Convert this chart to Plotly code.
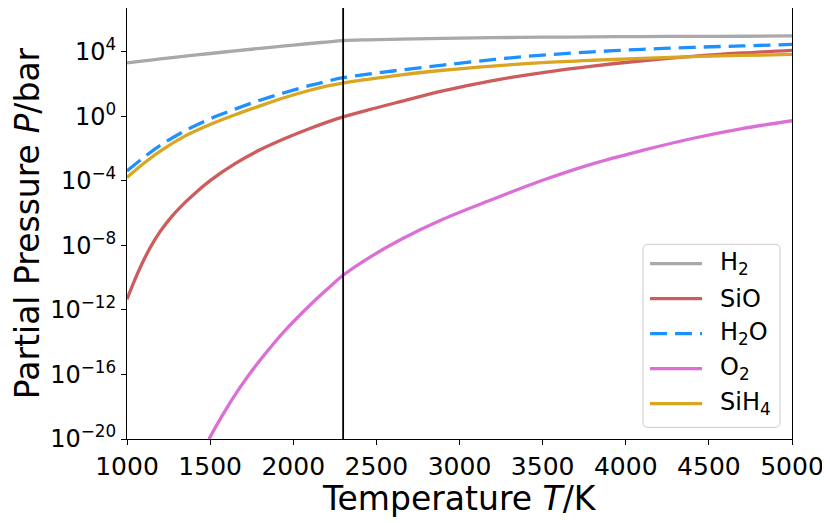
import plotly.graph_objects as go

# temperature grid (K) used for read-off values
temps = [1000, 1100, 1200, 1350, 1500, 1650, 1800, 1950, 2100, 2200, 2300,
         2450, 2650, 2900, 3200, 3500, 3800, 4100, 4400, 4700, 5000]

# log10 of partial pressure (bar)
log_h2 = [3.32, 3.44, 3.56, 3.73, 3.90, 4.06, 4.22, 4.37, 4.52, 4.61, 4.70,
          4.75, 4.79, 4.84, 4.88, 4.91, 4.93, 4.95, 4.96, 4.97, 4.99]
log_h2o = [-3.38, -2.55, -1.80, -0.88, -0.15, 0.45, 1.00, 1.48, 1.92, 2.17, 2.40,
           2.62, 2.88, 3.18, 3.52, 3.80, 4.00, 4.16, 4.28, 4.37, 4.46]
log_sih4 = [-3.79, -2.92, -2.15, -1.21, -0.50, 0.10, 0.65, 1.17, 1.62, 1.87, 2.07,
            2.30, 2.58, 2.86, 3.12, 3.33, 3.48, 3.60, 3.70, 3.78, 3.84]

# SiO is steep at low T, so it was read at more points there
temps_sio = [1000, 1050, 1100, 1150, 1200, 1275, 1350, 1425, 1500, 1650, 1800, 1950,
             2100, 2200, 2300, 2450, 2650, 2900, 3200, 3500, 3800, 4100, 4400, 4700, 5000]
log_sio = [-11.33, -10.06, -8.92, -7.95, -7.13, -6.14, -5.33, -4.62, -3.98, -2.93, -2.07, -1.37,
           -0.75, -0.37, -0.03, 0.40, 0.93, 1.58, 2.22, 2.72, 3.12, 3.45, 3.72, 3.93, 4.09]

# O2 only enters the plotted range above ~1500 K
temps_o2 = [1493, 1550, 1600, 1650, 1725, 1800, 1875, 1950, 2100, 2200, 2300, 2450, 2650, 2900,
            3200, 3500, 3800, 4100, 4400, 4700, 5000]
log_o2 = [-20.0, -18.95, -18.08, -17.26, -16.14, -15.12, -14.17, -13.28, -11.71, -10.75, -9.85,
          -8.80, -7.62, -6.38, -5.14, -3.96, -2.94, -2.11, -1.37, -0.76, -0.27]

t_marker = 2300

ytick_exp = [4, 0, -4, -8, -12, -16, -20]
xtick_vals = [1000, 1500, 2000, 2500, 3000, 3500, 4000, 4500, 5000]

FONT = "DejaVu Sans"
LW = 3.3

series = [
    ("H<sub>2</sub>", temps, log_h2, "darkgray", "solid"),
    ("SiO", temps_sio, log_sio, "indianred", "solid"),
    ("H<sub>2</sub>O", temps, log_h2o, "dodgerblue", "17px,8px"),
    ("O<sub>2</sub>", temps_o2, log_o2, "orchid", "solid"),
    ("SiH<sub>4</sub>", temps, log_sih4, "goldenrod", "solid"),
]

fig = go.Figure()

for name, t, logp, color, dash in series:
    fig.add_trace(go.Scatter(
        x=t,
        y=[10 ** v for v in logp],
        mode="lines",
        name=name,
        showlegend=False,
        line=dict(color=color, width=LW, dash=dash, shape="spline", smoothing=1.0),
    ))

fig.add_vline(x=t_marker, line=dict(color="black", width=1.8))

# hand-made legend (matplotlib style: rounded box, long line samples)
box_w, box_h, r = 137, 183, 5
box_path = (f"M{r},0 H{box_w - r} Q{box_w},0 {box_w},{r} V{box_h - r} "
            f"Q{box_w},{box_h} {box_w - r},{box_h} H{r} Q0,{box_h} 0,{box_h - r} "
            f"V{r} Q0,0 {r},0 Z")
fig.add_shape(
    type="path", path=box_path,
    xref="paper", yref="paper", xsizemode="pixel", ysizemode="pixel",
    xanchor=0.776, yanchor=0.027,
    fillcolor="rgba(255,255,255,0.8)", line=dict(color="#cccccc", width=1),
)
for i, (name, t, logp, color, dash) in enumerate(series):
    yy = 0.407 - i * 0.0812
    fig.add_shape(
        type="line", xref="paper", yref="paper",
        x0=0.7865, x1=0.8647, y0=yy, y1=yy,
        line=dict(color=color, width=LW, dash=dash),
    )
    fig.add_annotation(
        x=0.889, y=yy, xref="paper", yref="paper",
        text=name, showarrow=False, xanchor="left", yanchor="middle",
        font=dict(family=FONT, size=24, color="black"),
    )

# x axis title as an annotation so it can sit a bit closer to the tick labels
fig.add_annotation(
    x=0.5, y=-0.139, xref="paper", yref="paper",
    text="Temperature <i>T</i>/K", showarrow=False,
    xanchor="center", yanchor="middle",
    font=dict(family=FONT, size=33, color="black"),
)

def exp_label(e):
    return "10<sup>" + str(e).replace("-", "\u2212") + "</sup>"

# the page body adds an 8px offset, margins allow for it
fig.update_layout(
    width=830,
    height=523,
    margin=dict(l=119, r=46, t=0, b=92),
    paper_bgcolor="white",
    plot_bgcolor="white",
    font=dict(family=FONT, color="black", size=24),
    showlegend=False,
)

fig.update_xaxes(
    range=[1000, 5000],
    tickvals=xtick_vals,
    ticks="outside", ticklen=5, tickwidth=1, tickcolor="black",
    showline=True, linecolor="black", linewidth=1, mirror=True,
    showgrid=False, zeroline=False,
    tickfont=dict(size=25),
)

fig.update_yaxes(
    type="log",
    range=[-20, 6.72],
    tickvals=[10 ** e for e in ytick_exp],
    ticktext=[exp_label(e) for e in ytick_exp],
    ticks="outside", ticklen=5, tickwidth=1, tickcolor="black",
    showline=True, linecolor="black", linewidth=1, mirror=True,
    showgrid=False, zeroline=False,
    tickfont=dict(size=24),
    title=dict(text="Partial Pressure <i>P</i>/bar", font=dict(size=33), standoff=4),
)

fig.write_html("out.html")
